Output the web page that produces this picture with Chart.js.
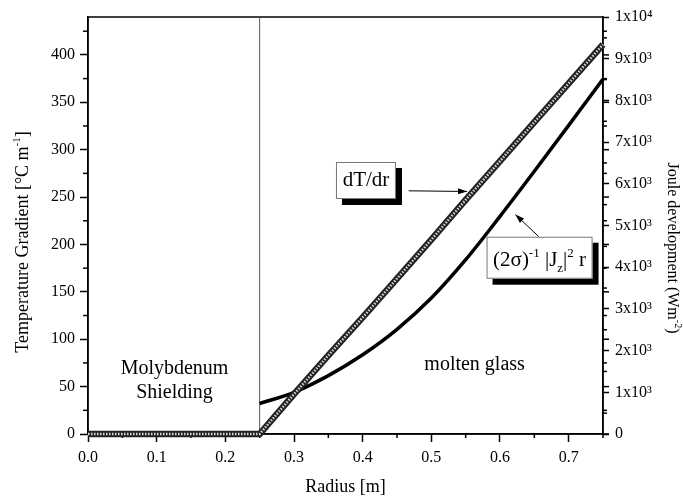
<!DOCTYPE html>
<html>
<head>
<meta charset="utf-8">
<script src="https://cdn.jsdelivr.net/npm/chart.js@4.4.1/dist/chart.umd.min.js"></script>
<style>
  body { margin: 0; background: #fff; }
  #wrap { width: 683px; height: 504px; }
</style>
</head>
<body>
<div id="wrap"><canvas id="myChart"></canvas></div>
<script>
// values
const radiusShield = [0, 0.25];
const radiusGlass = [0.25, 0.3, 0.35, 0.4, 0.45, 0.5, 0.55, 0.6, 0.65, 0.7, 0.75];
const gradShield = [0, 0];
const gradGlass = [0, 42, 83, 123, 164, 205, 247, 288, 329, 370, 411];
const jouleShield = [0, 0];
const jouleGlass = [730, 1000, 1400, 1900, 2510, 3260, 4180, 5220, 6300, 7400, 8510];
const separatorR = 0.25;

// tick labels
const xTicks = [0, 0.1, 0.2, 0.3, 0.4, 0.5, 0.6, 0.7];
const xTickLabels = ["0.0", "0.1", "0.2", "0.3", "0.4", "0.5", "0.6", "0.7"];
const gradTicks = [0, 50, 100, 150, 200, 250, 300, 350, 400];
const jouleTicks = [0, 1000, 2000, 3000, 4000, 5000, 6000, 7000, 8000, 9000, 10000];
const jouleTickLabels = ["0", "1x10³", "2x10³", "3x10³", "4x10³", "5x10³", "6x10³", "7x10³", "8x10³", "9x10³", "1x10⁴"];

const serif = "'Liberation Serif', 'Times New Roman', serif";
Chart.defaults.font.family = serif;
Chart.defaults.color = "#000";

const pts = (xs, ys) => xs.map((x, i) => ({ x: x, y: ys[i] }));
const gradR = radiusShield.concat(radiusGlass.slice(1));
const gradV = gradShield.concat(gradGlass.slice(1));

//small helpers for the decorations
function line(ctx, x1, y1, x2, y2) {
  ctx.beginPath();
  ctx.moveTo(x1, y1);
  ctx.lineTo(x2, y2);
  ctx.stroke();
}

function arrow(ctx, x1, y1, x2, y2) {
  ctx.lineWidth = 1;
  line(ctx, x1, y1, x2, y2);
  const ang = Math.atan2(y2 - y1, x2 - x1);
  ctx.beginPath();
  ctx.moveTo(x2, y2);
  ctx.lineTo(x2 - 9 * Math.cos(ang) + 3 * Math.sin(ang), y2 - 9 * Math.sin(ang) - 3 * Math.cos(ang));
  ctx.lineTo(x2 - 9 * Math.cos(ang) - 3 * Math.sin(ang), y2 - 9 * Math.sin(ang) + 3 * Math.cos(ang));
  ctx.closePath();
  ctx.fill();
}

function box(ctx, cx, cy, w, h) {
  ctx.fillStyle = "#000";
  ctx.fillRect(cx - w / 2 + 6, cy - h / 2 + 6, w, h);
  ctx.fillStyle = "#fff";
  ctx.fillRect(cx - w / 2, cy - h / 2, w, h);
  ctx.strokeStyle = "#777";
  ctx.lineWidth = 1;
  ctx.strokeRect(cx - w / 2 + 0.5, cy - h / 2 + 0.5, w - 1, h - 1);
  ctx.fillStyle = "#000";
  ctx.strokeStyle = "#000";
}

// pieces: [text, size, baseline shift]
function richText(ctx, parts, cx, baseY, align) {
  let total = 0;
  parts.forEach((p) => {
    ctx.font = p[1] + "px " + serif;
    total += ctx.measureText(p[0]).width;
  });
  let x = align === "center" ? cx - total / 2 : cx;
  ctx.textAlign = "left";
  ctx.textBaseline = "alphabetic";
  parts.forEach((p) => {
    ctx.font = p[1] + "px " + serif;
    ctx.fillText(p[0], x, baseY + p[2]);
    x += ctx.measureText(p[0]).width;
  });
}

const decor = {
  id: "decor",
  beforeDatasetsDraw(chart) {
    const { ctx, chartArea: a, scales } = chart;
    ctx.save();
    ctx.strokeStyle = "#000";
    ctx.lineWidth = 1.5;
    ctx.strokeRect(a.left, a.top, a.right - a.left, a.bottom - a.top);
    // minor ticks
    for (let v = 0.05; v < 0.76; v += 0.1) {
      const px = scales.x.getPixelForValue(v);
      line(ctx, px, a.bottom, px, a.bottom + 4);
    }
    for (let v = 25; v < 440; v += 50) {
      const py = scales.y.getPixelForValue(v);
      line(ctx, a.left, py, a.left - 5, py);
    }
    for (let v = 500; v < 10000; v += 1000) {
      const py = scales.y2.getPixelForValue(v);
      line(ctx, a.right, py, a.right + 4, py);
    }
    // left-axis ticks repeated on the right edge
    for (let v = 0; v < 440; v += 25) {
      const py = scales.y.getPixelForValue(v);
      line(ctx, a.right, py, a.right + (v % 50 === 0 ? 6 : 4), py);
    }
    ctx.restore();
  },
  afterDraw(chart) {
    const { ctx, chartArea: a, scales } = chart;
    const X = (v) => scales.x.getPixelForValue(v);
    const Y = (v) => scales.y.getPixelForValue(v);
    ctx.save();
    ctx.fillStyle = "#000";
    ctx.strokeStyle = "#000";

    // region labels
    ctx.font = "20px " + serif;
    ctx.textAlign = "center";
    ctx.textBaseline = "middle";
    ctx.fillText("Molybdenum", X(0.126), Y(69));
    ctx.fillText("Shielding", X(0.126), Y(43.5));
    ctx.fillText("molten glass", X(0.563), Y(73.5));

    // dT/dr label
    box(ctx, X(0.4048), Y(267.5), 60, 37);
    ctx.font = "21px " + serif;
    ctx.textAlign = "center";
    ctx.textBaseline = "middle";
    ctx.fillText("dT/dr", X(0.4048), Y(267.5));
    arrow(ctx, X(0.467), Y(256.6), X(0.552), Y(255.9));

    // Joule label
    box(ctx, X(0.6576), Y(186), 106, 42);
    richText(ctx, [
      ["(2σ)", 21, 0], ["-1", 13, -9], [" |J", 21, 0], ["z", 13, 6],
      ["|", 21, 0], ["2", 13, -9], [" r", 21, 0]
    ], X(0.6576), Y(186) + 8, "center");
    arrow(ctx, X(0.6563), Y(208.4), X(0.6224), Y(231.5));

    // axis titles
    ctx.save();
    ctx.translate(22, 242);
    ctx.rotate(-Math.PI / 2);
    richText(ctx, [["Temperature Gradient [°C m", 18, 0], ["-1", 11, -8], ["]", 18, 0]], 0, 6, "center");
    ctx.restore();

    ctx.save();
    ctx.translate(673, 248);
    ctx.rotate(Math.PI / 2);
    richText(ctx, [["Joule development (Wm", 16, 0], ["-2", 10, -7], [")", 16, 0]], 0, 5, "center");
    ctx.restore();

    ctx.restore();
  },
};

const axisGrid = { drawOnChartArea: false, tickLength: 8, tickColor: "#000", tickWidth: 1.5 };
const axisBorder = { color: "#000", width: 1.5 };

new Chart("myChart", {
  type: "line",
  data: {
    datasets: [
      {
        data: pts(gradR, gradV),
        yAxisID: "y",
        borderColor: "#d4d4d4",
        borderWidth: 2.5,
        borderDash: [1.5, 1.5],
        order: 0,
      },
      {
        data: pts(gradR, gradV),
        yAxisID: "y",
        borderColor: "#222",
        borderWidth: 6.5,
        order: 1,
      },
      {
        data: pts(radiusGlass, jouleGlass),
        yAxisID: "y2",
        borderColor: "#000",
        borderWidth: 3.5,
        cubicInterpolationMode: "monotone",
        order: 2,
      },
      {
        data: pts(radiusShield, jouleShield),
        yAxisID: "y2",
        borderColor: "#000",
        borderWidth: 3.5,
        order: 2,
      },
      {
        data: [{ x: separatorR, y: 0 }, { x: separatorR, y: 440 }],
        yAxisID: "y",
        borderColor: "#555",
        borderWidth: 1,
        order: 3,
      },
    ],
  },
  options: {
    responsive: true,
    maintainAspectRatio: false,
    animation: false,
    layout: { padding: { top: 17 } },
    elements: { point: { radius: 0 }, line: { fill: false } },
    datasets: { line: { clip: false } },
    plugins: { legend: { display: false }, tooltip: { enabled: false } },
    scales: {
      x: {
        type: "linear",
        min: 0,
        max: 0.75,
        afterBuildTicks: (s) => { s.ticks = xTicks.map((v) => ({ value: v })); },
        afterFit: (s) => { s.height = 70; },
        ticks: { font: { size: 16 }, padding: 6, maxRotation: 0, callback: (v, i) => xTickLabels[i] },
        grid: axisGrid,
        border: axisBorder,
        title: { display: true, text: "Radius [m]", font: { size: 18 }, padding: { top: 0, bottom: 6 } },
      },
      y: {
        position: "left",
        min: 0,
        max: 440,
        afterBuildTicks: (s) => { s.ticks = gradTicks.map((v) => ({ value: v })); },
        afterFit: (s) => { s.width = 88; },
        ticks: { font: { size: 16 }, padding: 5 },
        grid: axisGrid,
        border: axisBorder,
      },
      y2: {
        position: "right",
        min: 0,
        max: 10000,
        afterBuildTicks: (s) => { s.ticks = jouleTicks.map((v) => ({ value: v })); },
        afterFit: (s) => { s.width = 80; },
        ticks: { font: { size: 16 }, padding: 6, callback: (v, i) => jouleTickLabels[i] },
        grid: { drawOnChartArea: false, tickLength: 6, tickColor: "#000", tickWidth: 1.5 },
        border: axisBorder,
      },
    },
  },
  plugins: [decor],
});
</script>
</body>
</html>
